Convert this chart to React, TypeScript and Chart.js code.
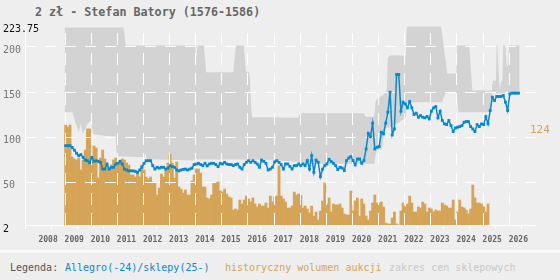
import { useEffect, useRef } from "react";
import { Chart, registerables } from "chart.js";

Chart.register(...registerables);

const titleText = "2 zł - Stefan Batory (1576-1586)";
const lastVolumeLabel = "124";

// axis ticks
const yearTicks = [2008, 2009, 2010, 2011, 2012, 2013, 2014, 2015, 2016, 2017, 2018, 2019, 2020, 2021, 2022, 2023, 2024, 2025, 2026];
const priceTicks = [2, 50, 100, 150, 200, 223.75];

// monthly series start in January 2009
const firstYear = 2009;

// monthly auction volume (historyczny wolumen aukcji)
const auctionVolume = [
  100, 98, 100, 68, 66, 65, 67, 55, 65, 75,
  96, 96, 65, 79, 77, 47, 67, 75, 66, 60,
  57, 60, 65, 67, 63, 63, 66, 65, 62, 60,
  50, 50, 48, 52, 48, 60, 55, 48, 46, 48,
  43, 42, 30, 37, 51, 48, 55, 62, 71, 62,
  47, 63, 38, 36, 32, 35, 30, 30, 44, 50,
  56, 56, 52, 38, 38, 27, 26, 30, 42, 42,
  43, 34, 33, 36, 31, 28, 27, 15, 16, 15,
  25, 21, 25, 29, 26, 23, 27, 21, 18, 21,
  19, 19, 22, 17, 29, 23, 28, 29, 59, 29,
  26, 23, 17, 17, 19, 33, 30, 31, 30, 17,
  19, 16, 12, 19, 9, 13, 5, 14, 24, 42,
  21, 27, 13, 21, 20, 20, 21, 17, 11, 10,
  10, 34, 14, 24, 27, 9, 26, 21, 9, 5,
  14, 22, 30, 22, 22, 23, 18, 2, 1, 1,
  7, 13, 1, 0, 14, 22, 18, 21, 29, 22,
  13, 13, 18, 17, 23, 21, 13, 17, 16, 13,
  15, 14, 14, 22, 20, 19, 17, 17, 25, 5,
  13, 25, 18, 17, 15, 11, 16, 40, 27, 22,
  22, 21, 18, 13, 21,
];

// monthly Allegro price, zł
const allegroPrice = [
  90, 90, 90, 88, 85, 81.5, 79, 80, 77, 74,
  73.3, 71, 77, 72.6, 73.3, 72.6, 71.5, 64, 64, 69.6,
  64, 66, 66, 69.6, 70.4, 72.6, 69.6, 64, 63, 62,
  62, 62, 61.5, 60.4, 63, 66, 70.4, 73.3, 73.3, 73.3,
  67.8, 64, 66, 65, 66, 66, 64, 65, 67.8, 66.7,
  66, 63, 62, 63, 63.7, 64, 63, 64, 65, 69,
  69.6, 70.4, 69, 67.8, 70.4, 67.5, 69.6, 70.4, 70.4, 69,
  66.7, 70.4, 69.6, 71.5, 69.6, 69, 69, 67.8, 69, 69.6,
  66, 64, 69, 71.5, 73.3, 71.5, 73.3, 71.5, 69.6, 66,
  74, 72.6, 70.4, 63, 64, 66, 72, 73.3, 71.5, 69,
  64, 69.7, 69.7, 67, 64, 67.8, 67.8, 69.7, 67.8, 69.7,
  67.8, 73.4, 64, 78.9, 60.4, 74, 71.5, 55.6, 64, 67.8,
  69.7, 74.9, 72.3, 70.4, 67.8, 63.4, 66, 65.2, 62.3, 73.4,
  76.3, 77.8, 73.4, 68.6, 75.2, 75.2, 70.4, 73.4, 86.3, 103.7,
  100, 114.9, 86.3, 88.2, 88.9, 104.9, 103, 114.9, 127.1, 149.3,
  101.9, 108.5, 168.9, 168.9, 128.2, 138.2, 136.3, 131.9, 138.9, 131.9,
  124.5, 126, 121.5, 123.3, 121.5, 120.8, 122.3, 119.6, 128.2, 131.9,
  133.3, 120.8, 128.2, 117.8, 114.1, 113.3, 117.8, 112.2, 105.6, 109.6,
  110.4, 111.1, 112.2, 115.9, 116.7, 116.7, 111.1, 108.5, 105.6, 113.3,
  111.1, 114.1, 113.3, 122.2, 114.1, 128.9, 143.7, 140, 144.5, 144.5,
  144.5, 145.6, 138.2, 128.9, 147.4, 148.2, 148.2, 148.2, 148.2,
];

// shop price range (zakres cen sklepowych)
const shopDates = [
  2009.0, 2009.3, 2009.35, 2009.45, 2009.55, 2009.62, 2009.7, 2009.88, 2010.0, 2010.1,
  2010.5, 2010.95, 2011.0, 2011.25, 2011.29, 2011.32, 2011.35, 2012.05, 2012.1, 2012.15,
  2013.99, 2014.04, 2014.1, 2014.33, 2014.38, 2014.42, 2015.46, 2015.5, 2015.56, 2015.86,
  2015.9, 2015.95, 2016.06, 2016.1, 2016.15, 2016.19, 2017.25, 2017.3, 2017.95, 2018.0,
  2020.45, 2020.52, 2020.86, 2020.9, 2020.96, 2021.15, 2021.25, 2021.33, 2021.37, 2021.45,
  2021.8, 2022.06, 2022.1, 2022.14, 2023.4, 2023.46, 2023.53, 2023.6, 2023.65, 2024.0,
  2024.03, 2024.08, 2024.49, 2024.55, 2024.61, 2025.33, 2025.36, 2025.41, 2025.51, 2025.54,
  2025.57, 2025.61, 2025.66, 2025.72, 2025.76, 2025.79, 2025.88, 2025.92, 2025.97, 2026.01,
  2026.42,
];
const shopLow = [
  127, 127, 122, 112, 105, 114, 103, 114, 118, 103,
  101, 100, 78, 78, 78, 78, 78, 77, 82, 75,
  73.5, 75.5, 74.5, 74.5, 74.5, 74.5, 74.5, 74.5, 74.5, 74.5,
  74.5, 74.5, 74.5, 74.5, 74.5, 74.5, 74, 73, 72, 70,
  70, 70, 70, 79, 86, 86, 108, 110, 110, 110,
  116, 121, 138, 138, 138, 138, 145, 148, 149, 149,
  140, 127, 127, 127, 127, 127, 148, 148, 148, 148,
  148, 148, 148, 148, 148, 148, 148, 148, 148, 148,
  148,
];
const shopHigh = [
  221, 221, 221, 221, 221, 221, 221, 221, 221, 221,
  221, 221, 221, 221, 215, 205, 201, 201, 201, 201,
  201, 188, 201, 201, 185, 171.5, 171.5, 186, 201, 201,
  186, 171.5, 171.5, 162, 129, 121.5, 121.5, 121, 121, 126,
  126, 122, 122, 138, 142, 145, 148, 152, 187, 190,
  190, 190, 221, 222, 222, 212, 195, 182, 170, 170,
  201, 201, 201, 175, 151, 151, 157, 162, 162, 201,
  201, 173, 151, 162, 162, 201, 201, 178, 178, 201,
  201,
];

const COLORS = {
  band: "#d3d3d3",
  volume: "#d5a457",
  price: "#0a88cc",
  grid: "#ffffff",
  bg: "#eeeeee",
};
const MONO = '"DejaVu Sans Mono", monospace';
const LINE_INDEX = 3;

const monthX = (i: number) => firstYear + (i + 0.5) / 12;

// dashed white grid drawn above the band and bars, below the price line
const gridPlugin = {
  id: "dashGrid",
  beforeDatasetDraw(chart: any, args: any) {
    if (args.index !== LINE_INDEX) return;
    const { ctx, chartArea: a, scales } = chart;
    const xs = scales.x;
    const ys = scales.y;
    ctx.save();
    ctx.strokeStyle = COLORS.grid;
    ctx.lineWidth = 1;
    ctx.setLineDash([12, 8]);
    yearTicks.slice(1).forEach((t) => {
      const px = Math.round(xs.getPixelForValue(t)) + 0.5;
      ctx.beginPath();
      ctx.moveTo(px, a.bottom);
      ctx.lineTo(px, a.top);
      ctx.stroke();
    });
    ctx.setLineDash([11, 9]);
    priceTicks.slice(1, -1).forEach((v) => {
      const py = Math.round(ys.getPixelForValue(v)) + 0.5;
      ctx.beginPath();
      ctx.moveTo(a.left, py);
      ctx.lineTo(a.right, py);
      ctx.stroke();
    });
    ctx.setLineDash([]);
    const lx = Math.round(a.left) + 0.5;
    const by = Math.round(a.bottom) + 0.5;
    ctx.beginPath();
    ctx.moveTo(lx, a.top);
    ctx.lineTo(lx, by);
    ctx.lineTo(a.right, by);
    ctx.stroke();
    ctx.restore();
  },
  afterDraw(chart: any) {
    const { ctx, chartArea: a } = chart;
    ctx.save();
    ctx.fillStyle = COLORS.volume;
    ctx.font = `11px ${MONO}`;
    ctx.textAlign = "left";
    ctx.textBaseline = "middle";
    ctx.fillText(lastVolumeLabel, a.right - 6, 130);
    ctx.restore();
  },
};

export default function App() {
  const canvasRef = useRef<HTMLCanvasElement | null>(null);

  useEffect(() => {
    const canvas = canvasRef.current;
    if (!canvas) return;
    const chart = new Chart(canvas, {
      type: "bar",
      data: {
        datasets: [
          {
            type: "line",
            data: shopDates.map((t, i) => ({ x: t, y: shopHigh[i] })),
            borderColor: "rgba(0,0,0,0)",
            borderWidth: 0,
            pointRadius: 0,
            backgroundColor: COLORS.band,
            fill: "+1",
            yAxisID: "y",
            order: 3,
          },
          {
            type: "line",
            data: shopDates.map((t, i) => ({ x: t, y: shopLow[i] })),
            borderColor: "rgba(0,0,0,0)",
            borderWidth: 0,
            pointRadius: 0,
            fill: false,
            yAxisID: "y",
            order: 3,
          },
          {
            type: "bar",
            data: auctionVolume.map((v, i) => ({ x: monthX(i), y: v })),
            backgroundColor: COLORS.volume,
            borderWidth: 0,
            barPercentage: 1,
            categoryPercentage: 1,
            yAxisID: "v",
            order: 2,
          },
          {
            type: "line",
            data: allegroPrice.map((v, i) => ({ x: monthX(i), y: v })),
            borderColor: COLORS.price,
            backgroundColor: COLORS.price,
            borderWidth: 1.5,
            pointStyle: "rect",
            pointRadius: 2,
            pointBorderWidth: 0,
            tension: 0,
            fill: false,
            yAxisID: "y",
            order: 1,
          },
        ] as any,
      },
      options: {
        animation: false,
        responsive: false,
        events: [],
        layout: { padding: { top: 25, left: 3, right: 24, bottom: 0 } },
        plugins: {
          legend: { display: false },
          tooltip: { enabled: false },
          title: { display: false },
        },
        scales: {
          x: {
            type: "linear",
            min: 2008,
            max: 2026.53,
            afterBuildTicks: (s: any) => {
              s.ticks = yearTicks.map((v) => ({ value: v }));
            },
            afterFit: (s: any) => {
              s.height = 25;
            },
            ticks: {
              autoSkip: false,
              maxRotation: 0,
              align: "start",
              padding: 6,
              color: "#666666",
              font: { family: MONO, size: 8, weight: "bold" },
              callback: (v: any) => String(v),
            },
            grid: { drawOnChartArea: false, tickLength: 4, tickColor: "#ffffff" },
            border: { display: false },
          },
          y: {
            type: "linear",
            min: 2,
            max: 223.75,
            afterBuildTicks: (s: any) => {
              s.ticks = priceTicks.map((v) => ({ value: v }));
            },
            afterFit: (s: any) => {
              s.width = 22;
            },
            ticks: {
              mirror: true,
              crossAlign: "near",
              labelOffset: 4,
              padding: -22,
              font: { family: MONO, size: 10 },
              color: (c: any) =>
                c.index === 0 || c.index === priceTicks.length - 1 ? "#111111" : "#777777",
              callback: (v: any) => String(v),
            },
            grid: { display: false },
            border: { display: false },
          },
          v: {
            type: "linear",
            display: false,
            min: 0,
            max: 200,
          },
        } as any,
      },
      plugins: [gridPlugin],
    });
    return () => chart.destroy();
  }, []);

  const legendText = { position: "absolute" as const, top: 260, lineHeight: "15px", fontSize: 10, whiteSpace: "pre" as const };

  return (
    <div
      style={{
        position: "fixed",
        left: 0,
        top: 0,
        width: 560,
        height: 280,
        background: COLORS.bg,
        overflow: "hidden",
        fontFamily: MONO,
      }}
    >
      <div
        style={{
          position: "absolute",
          left: 35,
          top: 4,
          fontSize: 11.7,
          fontWeight: "bold",
          color: "#666666",
          lineHeight: "16px",
          whiteSpace: "pre",
        }}
      >
        {titleText}
      </div>
      <canvas ref={canvasRef} width={560} height={250} style={{ position: "absolute", left: 0, top: 0 }} />
      <div style={{ position: "absolute", left: 0, top: 250, width: 560, height: 3, background: "#f9f9f9" }} />
      <span style={{ ...legendText, left: 10, color: "#555555" }}>Legenda:</span>
      <span style={{ ...legendText, left: 65, color: COLORS.price }}>Allegro(-24)/sklepy(25-)</span>
      <span style={{ ...legendText, left: 225, color: COLORS.volume }}>historyczny wolumen aukcji</span>
      <span style={{ ...legendText, left: 389, color: "#c8c8c8" }}>zakres cen sklepowych</span>
    </div>
  );
}
